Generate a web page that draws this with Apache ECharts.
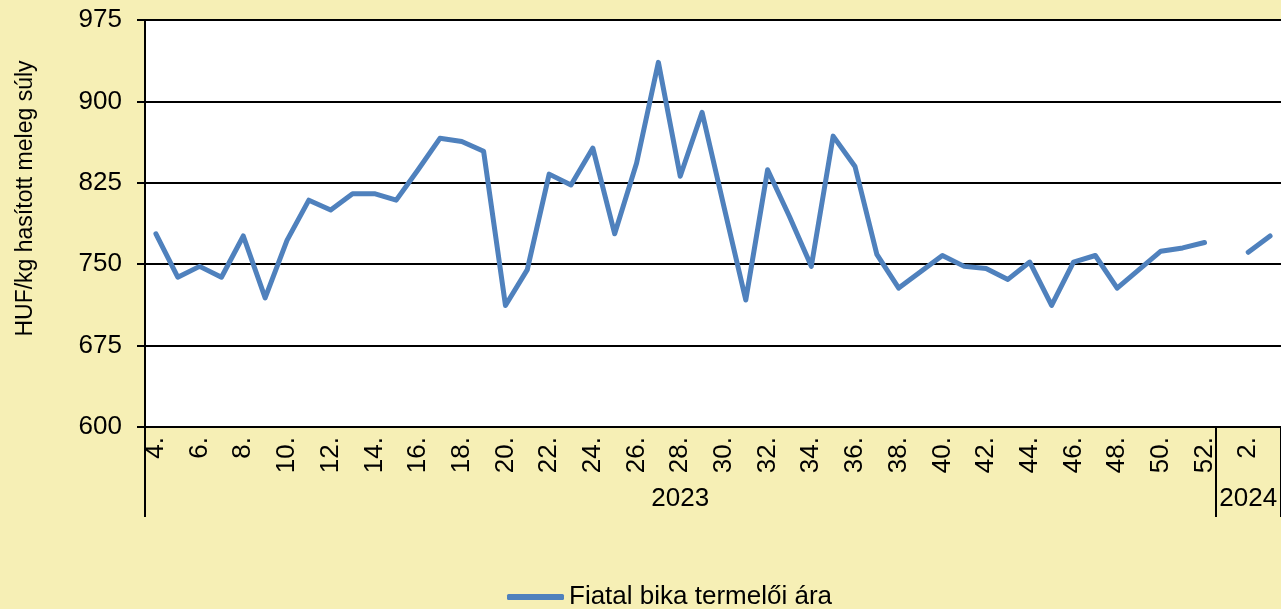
<!DOCTYPE html>
<html>
<head>
<meta charset="utf-8">
<script src="https://cdn.jsdelivr.net/npm/echarts@6/dist/echarts.min.js"></script>
<style>
html,body{margin:0;padding:0;background:#F6EFB5;}
#chart{width:1281px;height:609px;}
</style>
</head>
<body>
<div id="chart"></div>
<script>
var weekLabels = ['4.','5.','6.','7.','8.','9.','10.','11.','12.','13.','14.','15.','16.','17.','18.','19.','20.','21.','22.','23.','24.','25.','26.','27.','28.','29.','30.','31.','32.','33.','34.','35.','36.','37.','38.','39.','40.','41.','42.','43.','44.','45.','46.','47.','48.','49.','50.','51.','52.','1.','2.','3.'];
var yearOf = ['2023','2023','2023','2023','2023','2023','2023','2023','2023','2023','2023','2023','2023','2023','2023','2023','2023','2023','2023','2023','2023','2023','2023','2023','2023','2023','2023','2023','2023','2023','2023','2023','2023','2023','2023','2023','2023','2023','2023','2023','2023','2023','2023','2023','2023','2023','2023','2023','2023','2024','2024','2024'];
var yearLabels = ['2023','2024'];
var prices = [778,738,748,738,776,719,772,809,800,815,815,809,837,866,863,854,712,745,833,823,857,778,843,936,831,890,803,717,837,794,748,868,840,759,728,743,758,748,746,736,752,712,752,758,728,745,762,765,770,null,761,776];
var seriesName = 'Fiatal bika termelői ára';
var yTicks = {min:600, max:975, interval:75};

var cats = weekLabels.map(function(w,i){ return yearOf[i] + '-' + w; });
var groupStart = {}, groupEnd = {};
yearOf.forEach(function(y,i){ if(groupStart[y]===undefined) groupStart[y]=i; groupEnd[y]=i; });
var midIdx = {};
yearLabels.forEach(function(y){ midIdx[Math.round((groupStart[y]+groupEnd[y])/2)] = y; });

var chart = echarts.init(document.getElementById('chart'));
var font = 'Liberation Sans, Arial, sans-serif';
chart.setOption({
  backgroundColor: '#F6EFB5',
  animation: false,
  textStyle: {fontFamily: font},
  grid: {left:145, right:0, top:20, bottom:182, backgroundColor:'#ffffff', show:true, borderWidth:0},
  legend: {
    data:[seriesName], top: 579, left: 502,
    icon: 'roundRect', itemWidth: 57, itemHeight: 6, itemGap: 6,
    textStyle: {fontSize: 26, color:'#000', fontFamily: font}
  },
  xAxis: [{
    type:'category', data: cats, boundaryGap:true,
    axisLine:{show:true, lineStyle:{color:'#000', width:2}},
    axisTick:{show:false},
    axisLabel:{interval:1, rotate:90, fontSize:26, color:'#000', margin:10,
      formatter:function(v){ return v.split('-')[1]; }},
    splitLine:{show:false}
  },{
    type:'category', data: cats, boundaryGap:true, position:'bottom', offset:90,
    axisLine:{show:false},
    axisTick:{show:true, inside:true, length:90, lineStyle:{color:'#000', width:2},
      interval:function(i){ return i===0 || yearLabels.some(function(y){return groupStart[y]===i;}); }},
    axisLabel:{inside:true, margin:5, fontSize:26, color:'#000',
      interval:function(i){ return midIdx[i]!==undefined; },
      formatter:function(v, i){ return midIdx[i] || ''; }},
    splitLine:{show:false}
  }],
  yAxis: {
    type:'value', min:yTicks.min, max:yTicks.max, interval:yTicks.interval,
    name:'HUF/kg hasított meleg súly', nameLocation:'middle', nameGap:108,
    nameTextStyle:{fontSize:23, color:'#000', fontFamily:font, padding:[0,0,0,50]},
    axisLine:{show:true, lineStyle:{color:'#000', width:2}},
    axisTick:{show:true, length:8, lineStyle:{color:'#000', width:2}},
    axisLabel:{fontSize:26, color:'#000', margin:23},
    splitLine:{show:true, lineStyle:{color:'#000', width:2}}
  },
  series:[{
    name: seriesName, type:'line', data: prices, xAxisIndex:0,
    symbol:'none', connectNulls:false,
    lineStyle:{color:'#4F81BD', width:5, cap:'round', join:'round'},
    itemStyle:{color:'#4F81BD'}
  }]
});
</script>
</body>
</html>
